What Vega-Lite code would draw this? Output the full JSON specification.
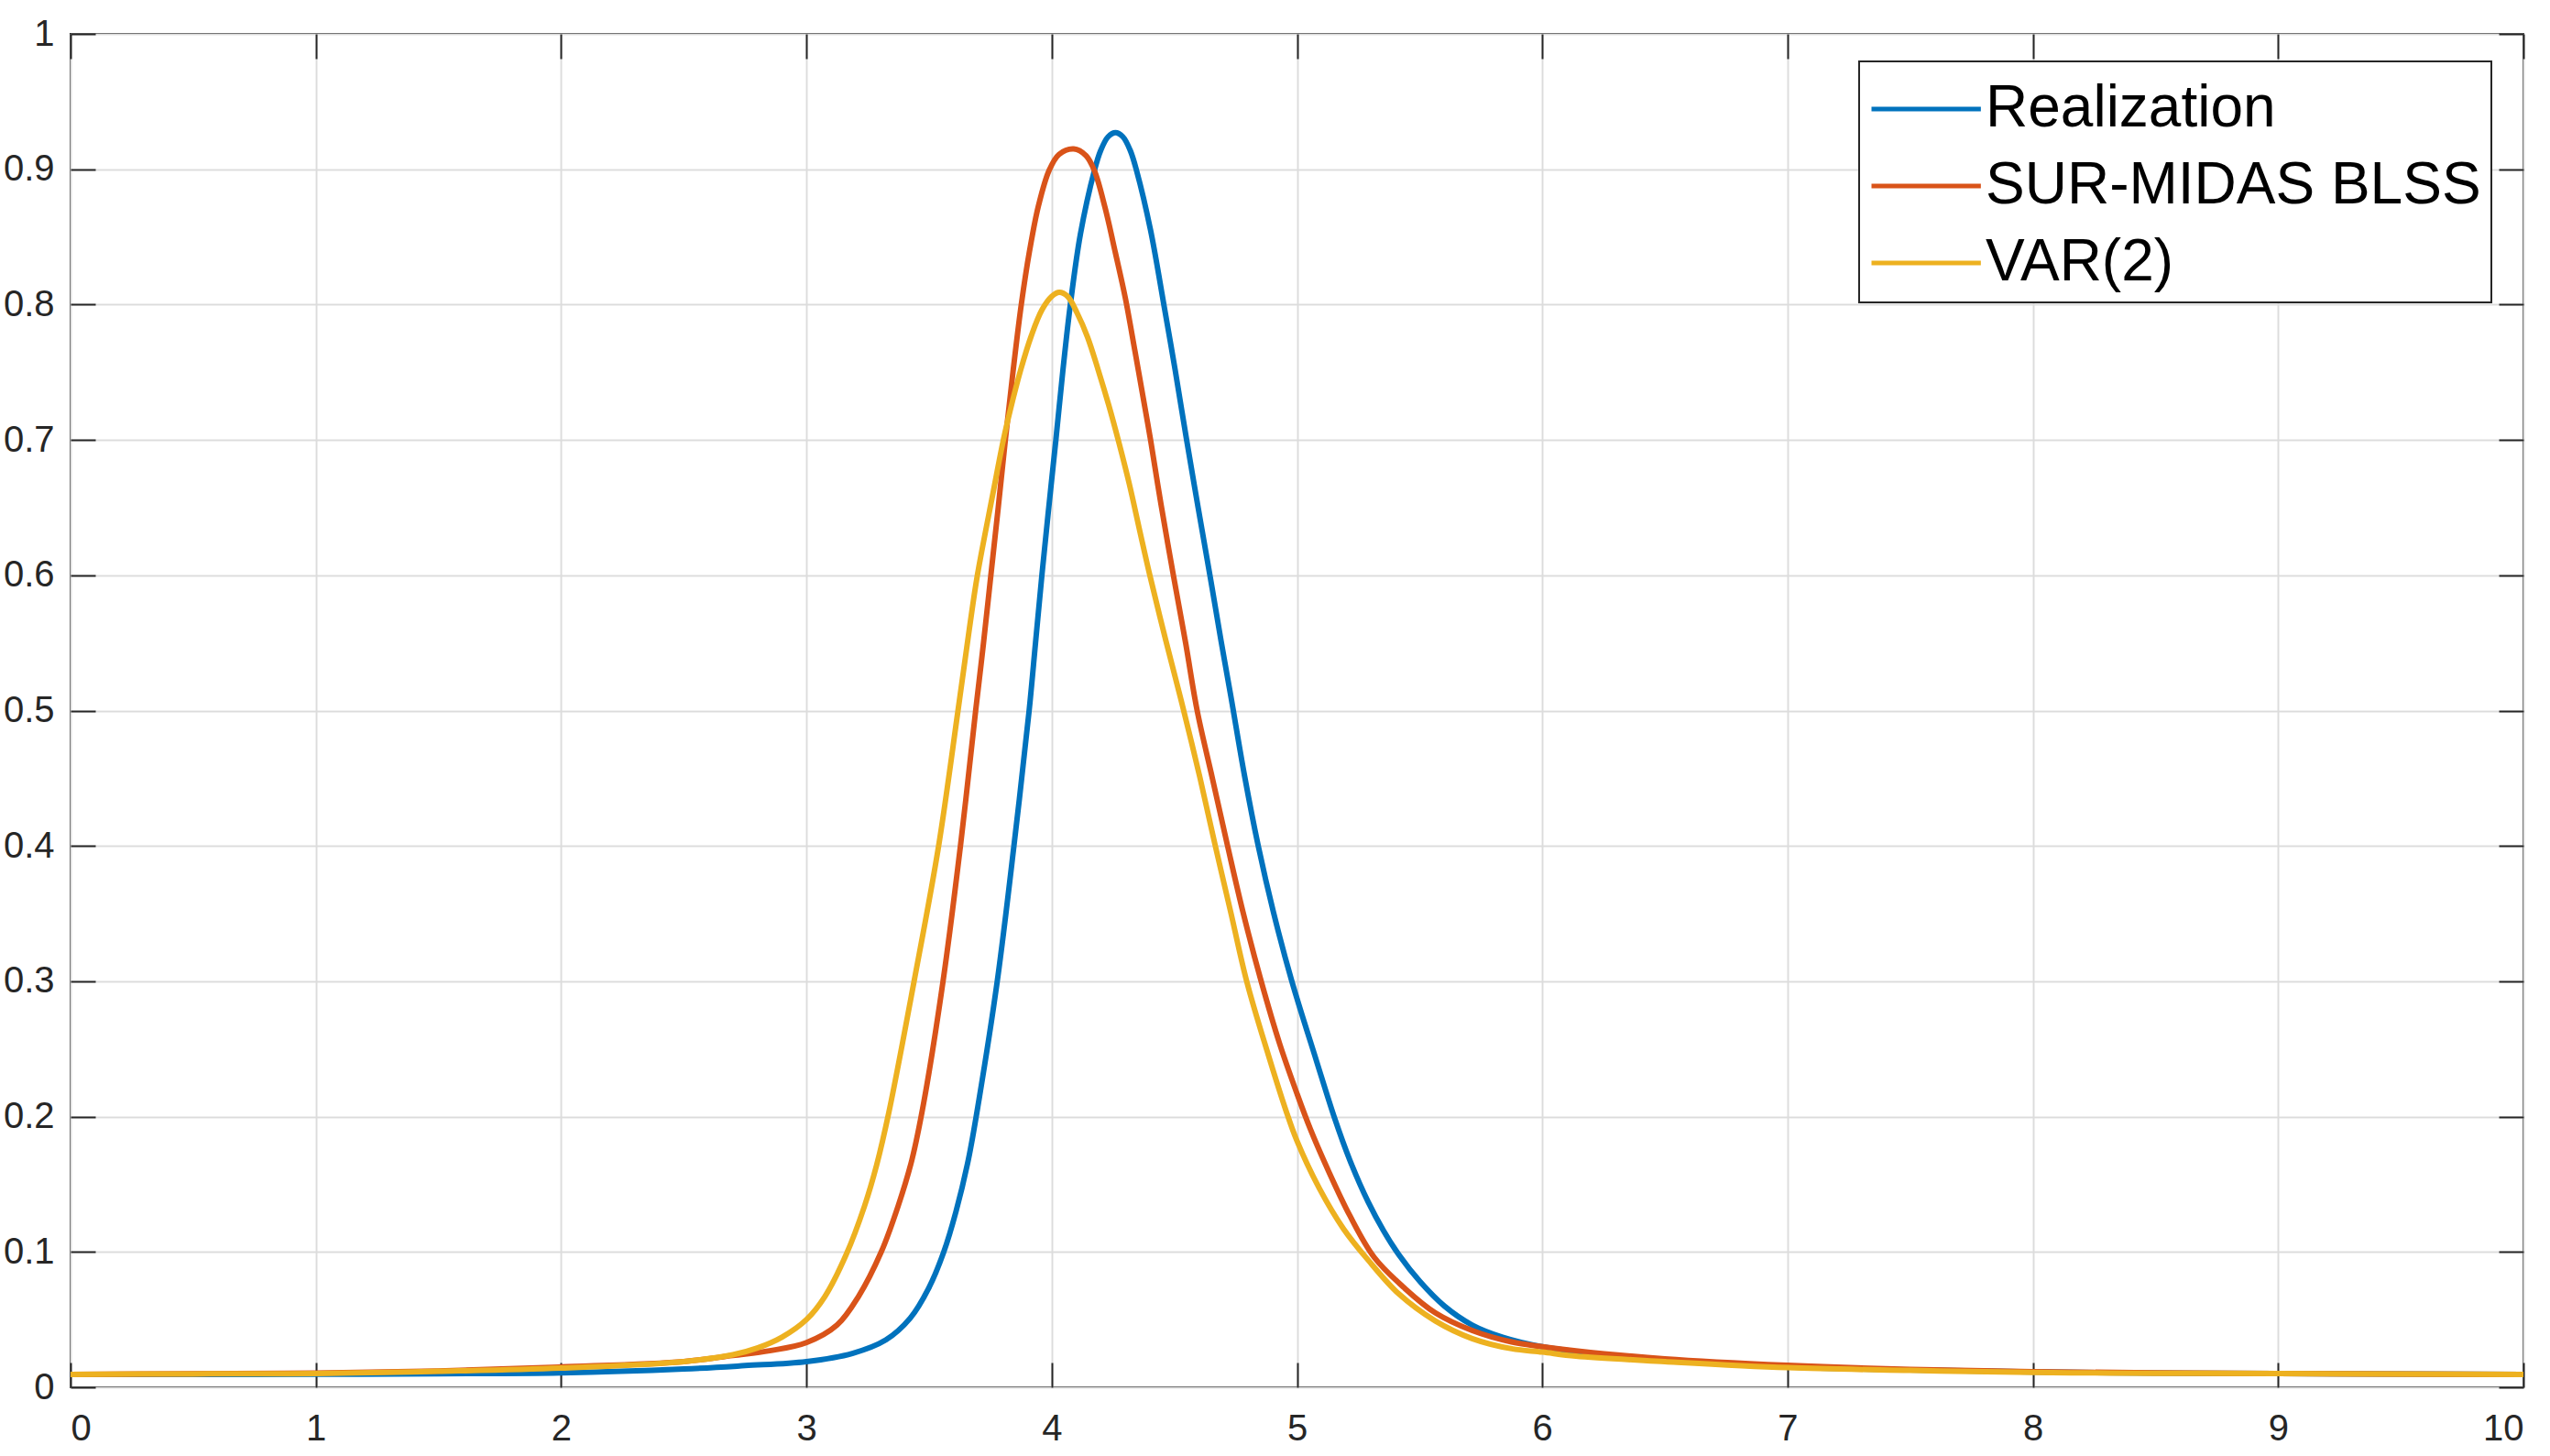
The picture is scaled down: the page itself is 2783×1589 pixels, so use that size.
{
  "$schema": "https://vega.github.io/schema/vega-lite/v6.json",
  "width": 2677,
  "height": 1477,
  "autosize": {"type": "none"},
  "padding": {"left": 77, "top": 37, "right": 29, "bottom": 75},
  "background": "white",
  "config": {
    "font": "Liberation Sans",
    "view": {"stroke": "#262626", "strokeWidth": 2},
    "legend": {"strokeWidth": 2},
    "axis": {
      "domain": false,
      "gridColor": "#dcdcdc",
      "gridWidth": 1.5,
      "gridOpacity": 1,
      "tickColor": "#262626",
      "tickWidth": 2,
      "tickSize": -27,
      "labelColor": "#262626",
      "labelFont": "Liberation Sans",
      "labelFontSize": 40,
      "title": null
    }
  },
  "datasets": {
    "curves": [
      {"s": "Realization", "x": 0, "y": 0.0095},
      {"s": "Realization", "x": 0.5, "y": 0.0095},
      {"s": "Realization", "x": 1, "y": 0.0096},
      {"s": "Realization", "x": 1.5, "y": 0.0100},
      {"s": "Realization", "x": 2, "y": 0.0106},
      {"s": "Realization", "x": 2.5, "y": 0.0135},
      {"s": "Realization", "x": 2.75, "y": 0.016},
      {"s": "Realization", "x": 3.0, "y": 0.019},
      {"s": "Realization", "x": 3.187, "y": 0.025},
      {"s": "Realization", "x": 3.324, "y": 0.035},
      {"s": "Realization", "x": 3.423, "y": 0.051},
      {"s": "Realization", "x": 3.498, "y": 0.073},
      {"s": "Realization", "x": 3.56, "y": 0.1},
      {"s": "Realization", "x": 3.61, "y": 0.13},
      {"s": "Realization", "x": 3.66, "y": 0.168},
      {"s": "Realization", "x": 3.704, "y": 0.213},
      {"s": "Realization", "x": 3.778, "y": 0.3},
      {"s": "Realization", "x": 3.846, "y": 0.4},
      {"s": "Realization", "x": 3.908, "y": 0.5},
      {"s": "Realization", "x": 3.934, "y": 0.55},
      {"s": "Realization", "x": 3.96, "y": 0.6},
      {"s": "Realization", "x": 3.988, "y": 0.65},
      {"s": "Realization", "x": 4.017, "y": 0.7},
      {"s": "Realization", "x": 4.046, "y": 0.752},
      {"s": "Realization", "x": 4.076, "y": 0.8},
      {"s": "Realization", "x": 4.117, "y": 0.852},
      {"s": "Realization", "x": 4.174, "y": 0.899},
      {"s": "Realization", "x": 4.2, "y": 0.914},
      {"s": "Realization", "x": 4.23, "y": 0.924},
      {"s": "Realization", "x": 4.26, "y": 0.927},
      {"s": "Realization", "x": 4.29, "y": 0.924},
      {"s": "Realization", "x": 4.32, "y": 0.914},
      {"s": "Realization", "x": 4.346, "y": 0.899},
      {"s": "Realization", "x": 4.403, "y": 0.855},
      {"s": "Realization", "x": 4.46, "y": 0.797},
      {"s": "Realization", "x": 4.503, "y": 0.752},
      {"s": "Realization", "x": 4.55, "y": 0.7},
      {"s": "Realization", "x": 4.597, "y": 0.65},
      {"s": "Realization", "x": 4.645, "y": 0.6},
      {"s": "Realization", "x": 4.69, "y": 0.552},
      {"s": "Realization", "x": 4.73, "y": 0.511},
      {"s": "Realization", "x": 4.786, "y": 0.452},
      {"s": "Realization", "x": 4.842, "y": 0.4},
      {"s": "Realization", "x": 4.904, "y": 0.351},
      {"s": "Realization", "x": 4.979, "y": 0.3},
      {"s": "Realization", "x": 5.078, "y": 0.242},
      {"s": "Realization", "x": 5.153, "y": 0.199},
      {"s": "Realization", "x": 5.215, "y": 0.168},
      {"s": "Realization", "x": 5.29, "y": 0.137},
      {"s": "Realization", "x": 5.352, "y": 0.116},
      {"s": "Realization", "x": 5.415, "y": 0.098},
      {"s": "Realization", "x": 5.502, "y": 0.078},
      {"s": "Realization", "x": 5.601, "y": 0.06},
      {"s": "Realization", "x": 5.714, "y": 0.046},
      {"s": "Realization", "x": 5.838, "y": 0.037},
      {"s": "Realization", "x": 6.0, "y": 0.030},
      {"s": "Realization", "x": 6.5, "y": 0.020},
      {"s": "Realization", "x": 7, "y": 0.015},
      {"s": "Realization", "x": 7.5, "y": 0.0128},
      {"s": "Realization", "x": 8, "y": 0.0113},
      {"s": "Realization", "x": 8.5, "y": 0.0105},
      {"s": "Realization", "x": 9, "y": 0.0101},
      {"s": "Realization", "x": 10, "y": 0.0095},
      {"s": "SUR-MIDAS BLSS", "x": 0, "y": 0.0095},
      {"s": "SUR-MIDAS BLSS", "x": 0.5, "y": 0.0100},
      {"s": "SUR-MIDAS BLSS", "x": 1, "y": 0.0105},
      {"s": "SUR-MIDAS BLSS", "x": 1.5, "y": 0.0120},
      {"s": "SUR-MIDAS BLSS", "x": 2, "y": 0.0150},
      {"s": "SUR-MIDAS BLSS", "x": 2.5, "y": 0.019},
      {"s": "SUR-MIDAS BLSS", "x": 2.7, "y": 0.0235},
      {"s": "SUR-MIDAS BLSS", "x": 2.85, "y": 0.027},
      {"s": "SUR-MIDAS BLSS", "x": 3.0, "y": 0.033},
      {"s": "SUR-MIDAS BLSS", "x": 3.125, "y": 0.046},
      {"s": "SUR-MIDAS BLSS", "x": 3.212, "y": 0.067},
      {"s": "SUR-MIDAS BLSS", "x": 3.305, "y": 0.1},
      {"s": "SUR-MIDAS BLSS", "x": 3.374, "y": 0.134},
      {"s": "SUR-MIDAS BLSS", "x": 3.43, "y": 0.168},
      {"s": "SUR-MIDAS BLSS", "x": 3.478, "y": 0.21},
      {"s": "SUR-MIDAS BLSS", "x": 3.557, "y": 0.3},
      {"s": "SUR-MIDAS BLSS", "x": 3.628, "y": 0.4},
      {"s": "SUR-MIDAS BLSS", "x": 3.69, "y": 0.5},
      {"s": "SUR-MIDAS BLSS", "x": 3.722, "y": 0.55},
      {"s": "SUR-MIDAS BLSS", "x": 3.752, "y": 0.6},
      {"s": "SUR-MIDAS BLSS", "x": 3.782, "y": 0.65},
      {"s": "SUR-MIDAS BLSS", "x": 3.811, "y": 0.7},
      {"s": "SUR-MIDAS BLSS", "x": 3.842, "y": 0.75},
      {"s": "SUR-MIDAS BLSS", "x": 3.876, "y": 0.8},
      {"s": "SUR-MIDAS BLSS", "x": 3.91, "y": 0.84},
      {"s": "SUR-MIDAS BLSS", "x": 3.946, "y": 0.873},
      {"s": "SUR-MIDAS BLSS", "x": 3.989, "y": 0.899},
      {"s": "SUR-MIDAS BLSS", "x": 4.03, "y": 0.911},
      {"s": "SUR-MIDAS BLSS", "x": 4.09, "y": 0.915},
      {"s": "SUR-MIDAS BLSS", "x": 4.14, "y": 0.91},
      {"s": "SUR-MIDAS BLSS", "x": 4.174, "y": 0.899},
      {"s": "SUR-MIDAS BLSS", "x": 4.217, "y": 0.872},
      {"s": "SUR-MIDAS BLSS", "x": 4.26, "y": 0.838},
      {"s": "SUR-MIDAS BLSS", "x": 4.3, "y": 0.805},
      {"s": "SUR-MIDAS BLSS", "x": 4.34, "y": 0.765},
      {"s": "SUR-MIDAS BLSS", "x": 4.38, "y": 0.724},
      {"s": "SUR-MIDAS BLSS", "x": 4.403, "y": 0.7},
      {"s": "SUR-MIDAS BLSS", "x": 4.446, "y": 0.652},
      {"s": "SUR-MIDAS BLSS", "x": 4.496, "y": 0.6},
      {"s": "SUR-MIDAS BLSS", "x": 4.546, "y": 0.55},
      {"s": "SUR-MIDAS BLSS", "x": 4.593, "y": 0.5},
      {"s": "SUR-MIDAS BLSS", "x": 4.655, "y": 0.45},
      {"s": "SUR-MIDAS BLSS", "x": 4.717, "y": 0.4},
      {"s": "SUR-MIDAS BLSS", "x": 4.78, "y": 0.351},
      {"s": "SUR-MIDAS BLSS", "x": 4.854, "y": 0.3},
      {"s": "SUR-MIDAS BLSS", "x": 4.929, "y": 0.254},
      {"s": "SUR-MIDAS BLSS", "x": 5.0, "y": 0.217},
      {"s": "SUR-MIDAS BLSS", "x": 5.054, "y": 0.191},
      {"s": "SUR-MIDAS BLSS", "x": 5.128, "y": 0.16},
      {"s": "SUR-MIDAS BLSS", "x": 5.215, "y": 0.127},
      {"s": "SUR-MIDAS BLSS", "x": 5.315, "y": 0.096},
      {"s": "SUR-MIDAS BLSS", "x": 5.44, "y": 0.073},
      {"s": "SUR-MIDAS BLSS", "x": 5.564, "y": 0.055},
      {"s": "SUR-MIDAS BLSS", "x": 5.714, "y": 0.042},
      {"s": "SUR-MIDAS BLSS", "x": 5.875, "y": 0.0335},
      {"s": "SUR-MIDAS BLSS", "x": 6.0, "y": 0.030},
      {"s": "SUR-MIDAS BLSS", "x": 6.137, "y": 0.027},
      {"s": "SUR-MIDAS BLSS", "x": 6.5, "y": 0.021},
      {"s": "SUR-MIDAS BLSS", "x": 7, "y": 0.0162},
      {"s": "SUR-MIDAS BLSS", "x": 7.5, "y": 0.0132},
      {"s": "SUR-MIDAS BLSS", "x": 8, "y": 0.0115},
      {"s": "SUR-MIDAS BLSS", "x": 8.5, "y": 0.0107},
      {"s": "SUR-MIDAS BLSS", "x": 9, "y": 0.0102},
      {"s": "SUR-MIDAS BLSS", "x": 10, "y": 0.0095},
      {"s": "VAR(2)", "x": 0, "y": 0.0095},
      {"s": "VAR(2)", "x": 0.5, "y": 0.0099},
      {"s": "VAR(2)", "x": 1, "y": 0.0102},
      {"s": "VAR(2)", "x": 1.5, "y": 0.0118},
      {"s": "VAR(2)", "x": 2, "y": 0.0142},
      {"s": "VAR(2)", "x": 2.5, "y": 0.019},
      {"s": "VAR(2)", "x": 2.7, "y": 0.024},
      {"s": "VAR(2)", "x": 2.8, "y": 0.029},
      {"s": "VAR(2)", "x": 2.9, "y": 0.037},
      {"s": "VAR(2)", "x": 3.0, "y": 0.05},
      {"s": "VAR(2)", "x": 3.075, "y": 0.067},
      {"s": "VAR(2)", "x": 3.162, "y": 0.098},
      {"s": "VAR(2)", "x": 3.237, "y": 0.134},
      {"s": "VAR(2)", "x": 3.286, "y": 0.164},
      {"s": "VAR(2)", "x": 3.336, "y": 0.203},
      {"s": "VAR(2)", "x": 3.439, "y": 0.3},
      {"s": "VAR(2)", "x": 3.539, "y": 0.4},
      {"s": "VAR(2)", "x": 3.618, "y": 0.5},
      {"s": "VAR(2)", "x": 3.664, "y": 0.56},
      {"s": "VAR(2)", "x": 3.697, "y": 0.6},
      {"s": "VAR(2)", "x": 3.76, "y": 0.66},
      {"s": "VAR(2)", "x": 3.803, "y": 0.7},
      {"s": "VAR(2)", "x": 3.831, "y": 0.722},
      {"s": "VAR(2)", "x": 3.874, "y": 0.752},
      {"s": "VAR(2)", "x": 3.917, "y": 0.777},
      {"s": "VAR(2)", "x": 3.96, "y": 0.796},
      {"s": "VAR(2)", "x": 4.0, "y": 0.806},
      {"s": "VAR(2)", "x": 4.031, "y": 0.809},
      {"s": "VAR(2)", "x": 4.065, "y": 0.806},
      {"s": "VAR(2)", "x": 4.103, "y": 0.794},
      {"s": "VAR(2)", "x": 4.146, "y": 0.776},
      {"s": "VAR(2)", "x": 4.189, "y": 0.752},
      {"s": "VAR(2)", "x": 4.232, "y": 0.726},
      {"s": "VAR(2)", "x": 4.274, "y": 0.698},
      {"s": "VAR(2)", "x": 4.317, "y": 0.667},
      {"s": "VAR(2)", "x": 4.36, "y": 0.632},
      {"s": "VAR(2)", "x": 4.4, "y": 0.6},
      {"s": "VAR(2)", "x": 4.465, "y": 0.552},
      {"s": "VAR(2)", "x": 4.53, "y": 0.506},
      {"s": "VAR(2)", "x": 4.605, "y": 0.45},
      {"s": "VAR(2)", "x": 4.667, "y": 0.4},
      {"s": "VAR(2)", "x": 4.73, "y": 0.351},
      {"s": "VAR(2)", "x": 4.795, "y": 0.3},
      {"s": "VAR(2)", "x": 4.879, "y": 0.248},
      {"s": "VAR(2)", "x": 4.954, "y": 0.205},
      {"s": "VAR(2)", "x": 5.0, "y": 0.182},
      {"s": "VAR(2)", "x": 5.091, "y": 0.147},
      {"s": "VAR(2)", "x": 5.19, "y": 0.117},
      {"s": "VAR(2)", "x": 5.29, "y": 0.094},
      {"s": "VAR(2)", "x": 5.415, "y": 0.069},
      {"s": "VAR(2)", "x": 5.564, "y": 0.049},
      {"s": "VAR(2)", "x": 5.714, "y": 0.036},
      {"s": "VAR(2)", "x": 5.875, "y": 0.0285},
      {"s": "VAR(2)", "x": 6.0, "y": 0.026},
      {"s": "VAR(2)", "x": 6.137, "y": 0.023},
      {"s": "VAR(2)", "x": 6.5, "y": 0.019},
      {"s": "VAR(2)", "x": 7, "y": 0.0145},
      {"s": "VAR(2)", "x": 7.5, "y": 0.0125},
      {"s": "VAR(2)", "x": 8, "y": 0.011},
      {"s": "VAR(2)", "x": 8.5, "y": 0.0104},
      {"s": "VAR(2)", "x": 9, "y": 0.0101},
      {"s": "VAR(2)", "x": 10, "y": 0.0095}
    ]
  },
  "data": {"name": "curves"},
  "layer": [
    {
      "mark": {"type": "line", "strokeOpacity": 0},
      "encoding": {
        "x": {
          "field": "x", "type": "quantitative",
          "scale": {"domain": [0, 10], "nice": false, "zero": false},
          "axis": {"orient": "top", "labels": false, "grid": true, "values": [0, 1, 2, 3, 4, 5, 6, 7, 8, 9, 10]}
        },
        "y": {
          "field": "y", "type": "quantitative",
          "scale": {"domain": [0, 1], "nice": false},
          "axis": {"orient": "right", "labels": false, "grid": true, "values": [0, 0.1, 0.2, 0.3, 0.4, 0.5, 0.6, 0.7, 0.8, 0.9, 1]}
        },
        "detail": {"field": "s", "type": "nominal"}
      }
    },
    {
      "mark": {"type": "line", "strokeWidth": 6, "interpolate": "catmull-rom", "clip": true},
      "encoding": {
        "x": {
          "field": "x", "type": "quantitative",
          "scale": {"domain": [0, 10], "nice": false, "zero": false},
          "axis": {"orient": "bottom", "grid": true, "values": [0, 1, 2, 3, 4, 5, 6, 7, 8, 9, 10], "format": "d", "labelPadding": 52}
        },
        "y": {
          "field": "y", "type": "quantitative",
          "scale": {"domain": [0, 1], "nice": false},
          "axis": {"orient": "left", "grid": true, "values": [0, 0.1, 0.2, 0.3, 0.4, 0.5, 0.6, 0.7, 0.8, 0.9, 1], "format": "~g", "labelPadding": 45}
        },
        "color": {
          "field": "s", "type": "nominal",
          "scale": {"domain": ["Realization", "SUR-MIDAS BLSS", "VAR(2)"], "range": ["#0072BD", "#D95319", "#EDB120"]},
          "legend": {
            "orient": "none",
            "legendX": 1952,
            "legendY": 30,
            "title": null,
            "direction": "vertical",
            "fillColor": "white",
            "strokeColor": "#262626",
            "padding": 11,
            "rowPadding": 11,
            "symbolType": "M-1,0H2.1",
            "symbolSize": 5929,
            "symbolStrokeWidth": 5,
            "labelOffset": 45,
            "labelFont": "Liberation Sans",
            "labelFontSize": 64,
            "labelColor": "#000000",
            "labelLimit": 0
          }
        }
      }
    }
  ],
  "resolve": {"axis": {"x": "independent", "y": "independent"}}
}
